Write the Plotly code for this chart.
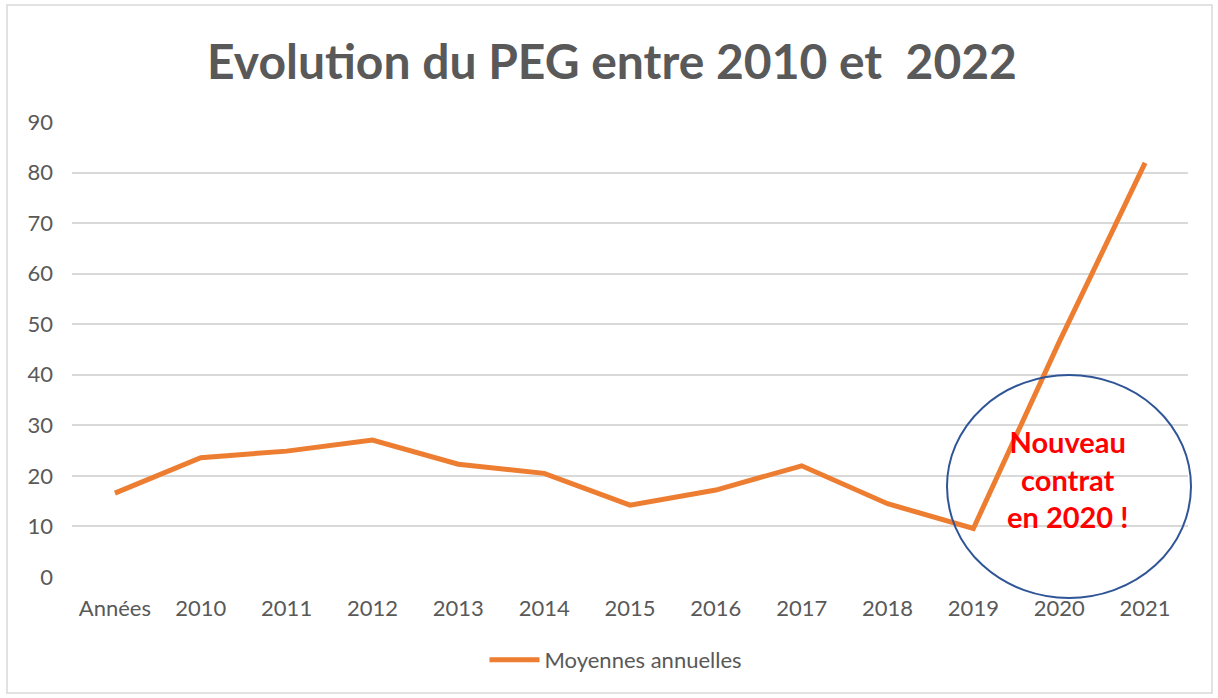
import plotly.graph_objects as go

categories = ["Années", "2010", "2011", "2012", "2013", "2014", "2015",
              "2016", "2017", "2018", "2019", "2020", "2021"]
values = [16.6, 23.6, 24.9, 27.1, 22.3, 20.5, 14.2, 17.2, 22.0, 14.5, 9.6, 46.5, 81.9]
series_name = "Moyennes annuelles"
y_ticks = [0, 10, 20, 30, 40, 50, 60, 70, 80, 90]
title_text = "Evolution du PEG entre 2010 et\u00a0\u00a02022"
note_text = "Nouveau<br>contrat<br>en 2020 !"

W, H = 1218, 698
L, R, T, B = 72, 1188, 122, 577

def px(x):
    return (x - L) / (R - L)

def py(y):
    return (B - y) / (B - T)

fig = go.Figure()
fig.add_trace(go.Scatter(
    x=categories, y=values, mode="lines", name=series_name,
    line=dict(color="#ED7D31", width=5), cliponaxis=False,
))

fig.update_layout(
    width=W, height=H,
    margin=dict(l=L, r=W - R, t=T, b=H - B),
    paper_bgcolor="white", plot_bgcolor="white",
    font=dict(family="Lato, 'Open Sans', sans-serif", color="#595959", size=21),
    title=dict(text=title_text, x=px(612), xanchor="center", xref="paper",
               y=1 - 62 / H, yanchor="middle",
               font=dict(family="Lato", size=48, color="#595959", weight="bold")),
    xaxis=dict(type="category", range=[-0.5, len(categories) - 0.5],
               showgrid=False, zeroline=False, showline=False, ticks="",
               tickfont=dict(size=22, color="#595959"), ticklabelstandoff=16),
    yaxis=dict(range=[0, 90], tickvals=y_ticks, showgrid=True, gridcolor="#D9D9D9",
               gridwidth=1.5, zeroline=False, showline=False, ticks="",
               tickfont=dict(size=22, color="#595959"), ticklabelstandoff=18),
    showlegend=True,
    legend=dict(orientation="h", x=px(616), xanchor="center", y=py(660), yanchor="middle",
                font=dict(size=22, color="#595959"), itemwidth=50),
)

# outer chart border
fig.add_shape(type="rect", xref="paper", yref="paper",
              x0=px(7), x1=px(1212), y0=py(693), y1=py(5),
              line=dict(color="#D9D9D9", width=1.5), layer="below")

# highlight ellipse
fig.add_shape(type="circle", xref="paper", yref="paper",
              x0=px(947), x1=px(1191), y0=py(598), y1=py(375),
              line=dict(color="#2F5597", width=2))

fig.add_annotation(xref="paper", yref="paper", x=px(1067), y=py(479),
                   xanchor="center", yanchor="middle",
                   text=note_text, showarrow=False, align="center",
                   font=dict(family="Lato", size=29, color="#FF0000", weight="bold"))

fig.write_html("out.html", config={"displayModeBar": False},
               post_script="document.body.style.margin='0';")
